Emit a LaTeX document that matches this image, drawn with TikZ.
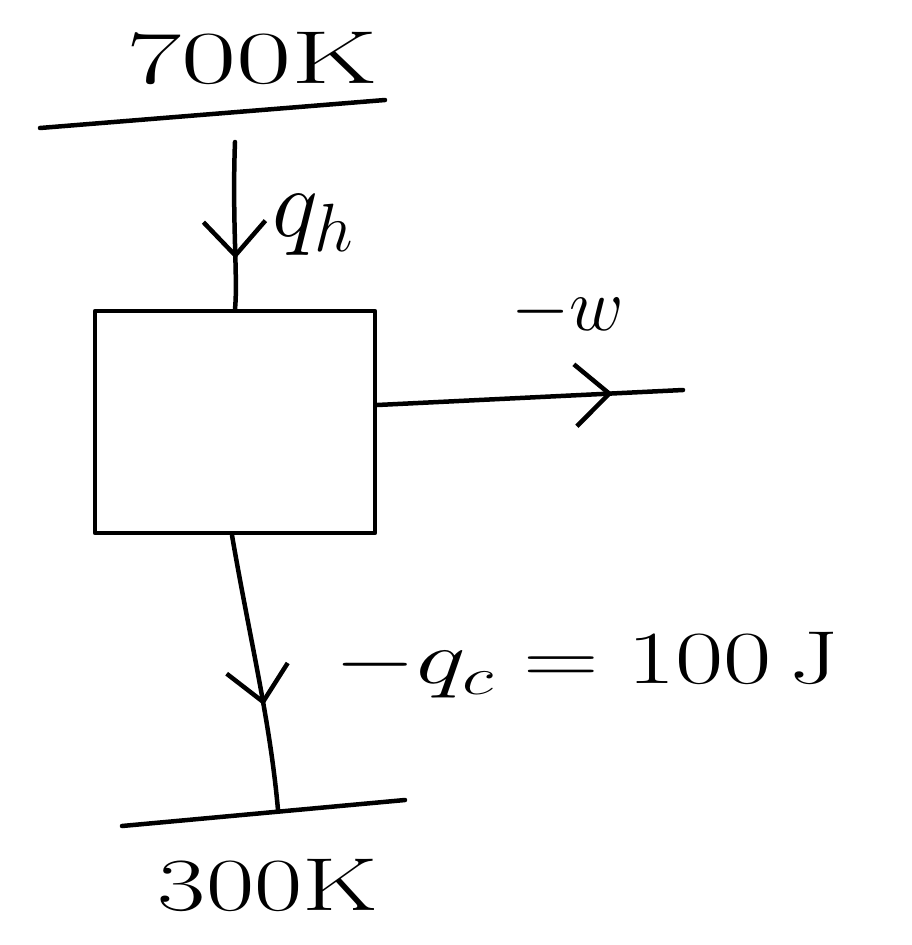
\documentclass[tikz,border=0pt]{standalone}
\usepackage{fix-cm}
\usetikzlibrary{arrows.meta,decorations.markings}
\begin{document}
\begin{tikzpicture}[x=1pt,y=-1pt,line cap=round,line join=round,
  ink/.style={line width=4.5pt},
  lbl/.style={font=\fontsize{75}{85}\selectfont},
  midarrow/.style={postaction={decorate},decoration={markings,
    mark=at position #1 with {\arrow{Straight Barb[length=34pt,width=62pt,line width=4.5pt]}}}}]
  \useasboundingbox (0,0) rectangle (912,945);
  % reservoirs
  \coordinate (hotL) at (40,128);
  \coordinate (hotR) at (385,100);
  \draw[ink] (hotL) -- (hotR);
  \coordinate (coldL) at (122,826);
  \coordinate (coldR) at (405,800);
  \draw[ink] (coldL) -- (coldR);
  \node[lbl,xscale=1.6] (thot) at (252,58) {700K};
  \node[lbl,xscale=1.4] (tcold) at (268,885) {300K};
  % engine
  \node[draw,ink,minimum width=280pt,minimum height=222pt] (eng) at (235,422) {};
  % heat in
  \coordinate (inTop) at (235,142);
  \draw[ink,midarrow=0.7] (inTop) .. controls (232,220) and (238,280) .. (eng.north);
  \node[lbl,anchor=west,scale=1.3] (qh) at (268,225) {$q_h$};
  % work out
  \coordinate (wEnd) at (683,390);
  \draw[ink,midarrow=0.77] (eng.east |- 0,405) -- (wEnd);
  \node[lbl] (w) at (568,312) {$-w$};
  % heat out
  \coordinate (outBot) at (278,810);
  \draw[ink,midarrow=0.62] (eng.south -| 232,0) .. controls (250,640) and (270,720) .. (outBot);
  \node[lbl,anchor=west,xscale=1.4] (qc) at (330,665) {$-q_c = 100\,\mathrm{J}$};
\end{tikzpicture}
\end{document}
